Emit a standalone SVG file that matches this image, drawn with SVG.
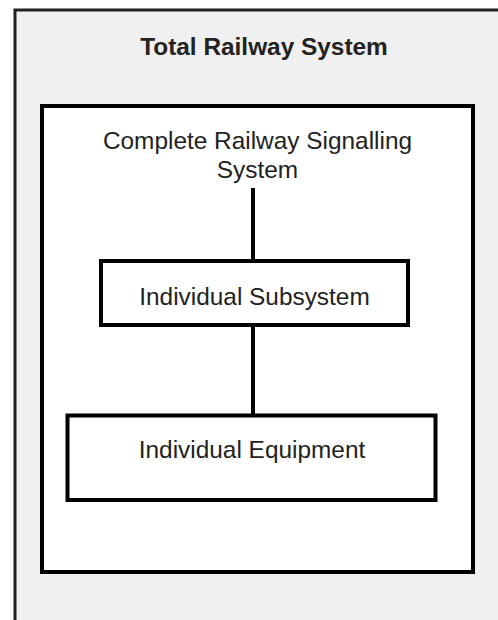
<svg xmlns="http://www.w3.org/2000/svg" width="498" height="620" viewBox="0 0 498 620">
<style>
.box{fill:#fff;stroke:#000;stroke-width:4}
.t{font-family:"Liberation Sans",Arial,sans-serif;font-size:24.4px;fill:#222;text-anchor:middle}
.title{font-weight:bold;font-size:24.4px}
.conn{stroke:#000;stroke-width:4;fill:none}
</style>
<rect width="498" height="620" fill="#fff"/>
<g id="total">
<rect x="15" y="10" width="500" height="630" fill="#f0f0f0" stroke="#222" stroke-width="3"/>
<text class="t title" x="264" y="55">Total Railway System</text>
</g>
<g id="signalling">
<rect class="box" x="42" y="106" width="431" height="466"/>
<text class="t" x="257.5" y="149">Complete Railway Signalling</text>
<text class="t" x="257.5" y="178">System</text>
</g>
<g id="subsystem">
<rect class="box" x="101" y="261" width="307" height="64"/>
<text class="t" x="254.5" y="305">Individual Subsystem</text>
</g>
<g id="equipment">
<rect class="box" x="67.5" y="415.5" width="368" height="84.5"/>
<text class="t" x="252" y="458">Individual Equipment</text>
</g>
<g id="connectors">
<line class="conn" x1="253" y1="188" x2="253" y2="261"/>
<line class="conn" x1="253" y1="325" x2="253" y2="415.5"/>
</g>
</svg>
